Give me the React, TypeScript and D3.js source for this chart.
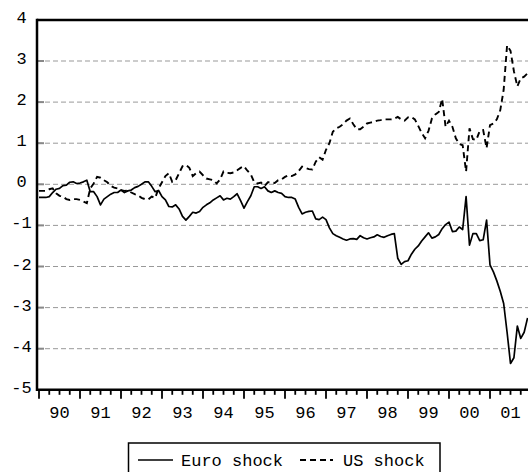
import * as d3 from "d3";

// monthly observations, Jan 1990 .. Dec 2001
const startYear = 1990;
const yearLabels = ["90", "91", "92", "93", "94", "95", "96", "97", "98", "99", "00", "01"];
const yTicks = [4, 3, 2, 1, 0, -1, -2, -3, -4, -5];

const euroShock = [
  -0.32, -0.32, -0.32, -0.3, -0.2, -0.12, -0.1, -0.03, -0.02, 0.05, 0.06, 0.02,
  0.03, 0.06, 0.1, -0.18, -0.18, -0.3, -0.5, -0.36, -0.3, -0.24, -0.2, -0.2,
  -0.14, -0.2, -0.16, -0.14, -0.08, -0.05, 0.0, 0.06, 0.06, -0.05, -0.18, -0.15,
  -0.3, -0.38, -0.54, -0.55, -0.5, -0.6, -0.78, -0.87, -0.78, -0.68, -0.7, -0.66,
  -0.56, -0.5, -0.45, -0.38, -0.33, -0.28, -0.38, -0.34, -0.36, -0.3, -0.23, -0.4,
  -0.58, -0.42, -0.28, -0.06, -0.06, -0.1, -0.06, -0.16, -0.2, -0.16, -0.2, -0.22,
  -0.3, -0.32, -0.32, -0.36, -0.56, -0.72, -0.68, -0.66, -0.65, -0.84, -0.86, -0.8,
  -0.86, -1.06, -1.2, -1.25, -1.29, -1.33, -1.36, -1.33, -1.32, -1.34, -1.25, -1.3,
  -1.33, -1.3, -1.28, -1.23, -1.27, -1.29, -1.25, -1.22, -1.2, -1.8, -1.95, -1.88,
  -1.86, -1.7, -1.58, -1.5, -1.38, -1.28, -1.18, -1.31, -1.28, -1.22, -1.08, -0.98,
  -0.92, -1.15, -1.14, -1.04, -1.1, -0.3, -1.48, -1.2, -1.2, -1.37, -1.35, -0.87,
  -1.96, -2.13, -2.35, -2.6, -2.9, -3.6, -4.36, -4.22, -3.45, -3.75, -3.6, -3.25,
];

const usShock = [
  -0.16, -0.16, -0.16, -0.12, -0.1, -0.22, -0.28, -0.3, -0.36, -0.38, -0.36, -0.36,
  -0.38, -0.42, -0.46, -0.1, 0.02, 0.18, 0.16, 0.1, 0.05, -0.04, -0.08, -0.1,
  -0.14, -0.16, -0.15, -0.2, -0.24, -0.27, -0.33, -0.36, -0.37, -0.3, -0.33, -0.1,
  0.05, 0.2, 0.27, 0.06, 0.1, 0.27, 0.44, 0.47, 0.4, 0.2, 0.27, 0.31,
  0.22, 0.14, 0.12, 0.1, 0.02, 0.12, 0.31, 0.28, 0.27, 0.29, 0.34, 0.4,
  0.44, 0.33, 0.24, 0.05, 0.02, 0.04, -0.04, 0.05, 0.05, 0.03, 0.1, 0.12,
  0.18, 0.22, 0.2, 0.24, 0.32, 0.43, 0.4, 0.37, 0.36, 0.55, 0.66, 0.6,
  0.84, 1.0, 1.28, 1.36, 1.4, 1.46, 1.55, 1.6, 1.46, 1.34, 1.34, 1.4,
  1.48, 1.5, 1.52, 1.55, 1.56, 1.58, 1.58, 1.58, 1.6, 1.64, 1.58, 1.55,
  1.63, 1.64, 1.58, 1.42, 1.25, 1.12, 1.3, 1.6, 1.7, 1.76, 2.08, 1.4,
  1.55, 1.4, 1.12, 0.98, 0.95, 0.31, 1.36, 1.1, 1.08, 1.3, 1.32, 0.88,
  1.44, 1.48, 1.58, 1.8, 2.3, 3.38, 3.25, 2.75, 2.38, 2.58, 2.62, 2.7,
];

const W = 528;
const H = 472;
const font = "'Liberation Mono', 'Courier New', monospace";

export default function App() {
  const x = d3.scaleLinear().domain([startYear, startYear + 12]).range([39, 531]);
  const y = d3.scaleLinear().domain([-5, 4]).range([389.8, 19.9]);
  const left = 37;
  const top = y(4);
  const bottom = y(-5);

  const line = d3
    .line<number>()
    .x((_, i) => x(startYear + i / 12))
    .y(d => y(d));

  const quarters = d3.range(0, 12 * 4 + 1).map(q => startYear + q / 4);

  return (
    <svg width={W} height={H} style={{ position: "absolute", left: 0, top: 0, background: "#fff" }}>
      <defs>
        <clipPath id="plot">
          <rect x={left} y={top} width={W - left} height={bottom - top} />
        </clipPath>
      </defs>

      {/* gridlines */}
      {yTicks.filter(t => t < 4 && t > -5).map(t => (
        <g key={t}>
          <line x1={left} x2={W} y1={y(t)} y2={y(t)} stroke="#999" strokeWidth={1} strokeDasharray="5,3" />
          <line x1={left} x2={left + 7} y1={y(t)} y2={y(t)} stroke="#888" strokeWidth={2} />
        </g>
      ))}

      {/* y labels */}
      {yTicks.map(t => (
        <text key={t} x={21.5} y={y(t) + 3} textAnchor="middle" fontFamily={font} fontSize={17} fill="#000">
          {t}
        </text>
      ))}

      {/* series */}
      <g clipPath="url(#plot)">
        <path d={line(euroShock) || ""} fill="none" stroke="#000" strokeWidth={1.7} strokeLinejoin="round" />
        <path d={line(usShock) || ""} fill="none" stroke="#000" strokeWidth={1.9} strokeDasharray="6,4" />
      </g>

      {/* frame */}
      <line x1={left} x2={W} y1={top} y2={top} stroke="#000" strokeWidth={2.5} />
      <line x1={left} x2={left} y1={top - 1.2} y2={bottom + 1.2} stroke="#000" strokeWidth={2.5} />
      <line x1={left} x2={W} y1={bottom} y2={bottom} stroke="#000" strokeWidth={2.5} />

      {/* x ticks */}
      {quarters.map((q, k) => (
        <line
          key={k}
          x1={x(q)}
          x2={x(q)}
          y1={bottom}
          y2={bottom + (k % 4 === 0 ? 9 : 5)}
          stroke="#000"
          strokeWidth={1.8}
        />
      ))}
      {yearLabels.map((lab, k) => (
        <text key={lab} x={x(startYear + k + 0.5)} y={418} textAnchor="middle" fontFamily={font} fontSize={17} fill="#000">
          {lab}
        </text>
      ))}

      {/* legend */}
      <rect x={128.5} y={443} width={311.5} height={40} fill="#fff" stroke="#000" strokeWidth={1.5} />
      <line x1={138} x2={173} y1={460} y2={460} stroke="#000" strokeWidth={1.7} />
      <text x={181} y={465.5} fontFamily={font} fontSize={17} fill="#000">Euro shock</text>
      <line x1={300} x2={333} y1={460} y2={460} stroke="#000" strokeWidth={1.9} strokeDasharray="6,4" />
      <text x={343} y={465.5} fontFamily={font} fontSize={17} fill="#000">US shock</text>
    </svg>
  );
}
